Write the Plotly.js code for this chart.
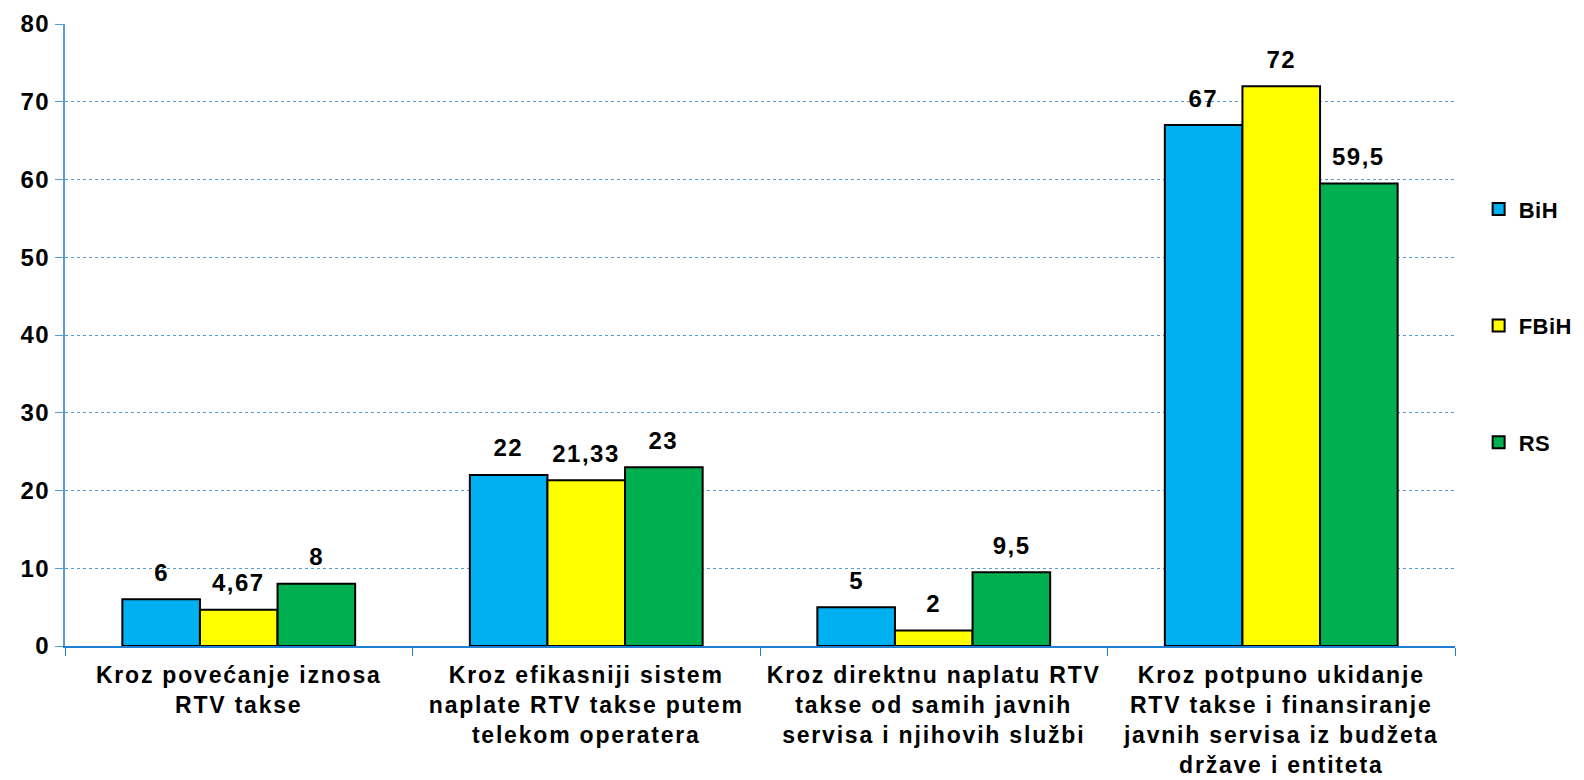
<!DOCTYPE html>
<html>
<head>
<meta charset="utf-8">
<script src="https://cdn.plot.ly/plotly-3.0.1.min.js"></script>
<style>
html,body{margin:0;padding:0;background:#fff;}
#chart{width:1584px;height:780px;}
#chart .xtick text{letter-spacing:1.8px;}
#chart .ytick text{letter-spacing:1.5px;}
#chart .annotation-text{letter-spacing:1.5px;}
#chart .legendtext{letter-spacing:0.5px;}
</style>
</head>
<body>
<div id="chart"></div>
<script>
const categories = [
  "Kroz povećanje iznosa<br>RTV takse",
  "Kroz efikasniji sistem<br>naplate RTV takse putem<br>telekom operatera",
  "Kroz direktnu naplatu RTV<br>takse od samih javnih<br>servisa i njihovih službi",
  "Kroz potpuno ukidanje<br>RTV takse i finansiranje<br>javnih servisa iz budžeta<br>države i entiteta"
];
const seriesNames = ["BiH", "FBiH", "RS"];
const bihValues = [6, 22, 5, 67];
const fbihValues = [4.67, 21.33, 2, 72];
const rsValues = [8, 23, 9.5, 59.5];
const yTickValues = [0, 10, 20, 30, 40, 50, 60, 70, 80];

const colors = ["#00b0f0", "#ffff00", "#00b050"];
const allValues = [bihValues, fbihValues, rsValues];
const fmt = v => String(v).replace('.', ',');

const W = 1584, H = 780;
const margin = {l: 65, r: 129, t: 24, b: 134, autoexpand: false};
const bargap = 0.33;
const plotW = W - margin.l - margin.r;
const barW = plotW / categories.length * (1 - bargap) / allValues.length;

const FONT = 'Liberation Sans, Arial, sans-serif';

const traces = allValues.map((vals, i) => ({
  type: 'bar',
  name: seriesNames[i],
  x: categories,
  y: vals,
  marker: {color: colors[i], line: {color: '#000', width: 2}},
  legendgroup: 'g' + i,
  hoverinfo: 'none'
}));

const annotations = [];
allValues.forEach((vals, i) => {
  vals.forEach((v, j) => {
    annotations.push({
      x: categories[j], y: v, xref: 'x', yref: 'y',
      text: fmt(v), showarrow: false,
      xshift: (i - (allValues.length - 1) / 2) * barW,
      yshift: 27, yanchor: 'middle',
      font: {family: FONT, size: 24, color: '#000', weight: 'bold'}
    });
  });
});

const layout = {
  width: W, height: H,
  margin: margin,
  paper_bgcolor: '#fff', plot_bgcolor: '#fff',
  font: {family: FONT, color: '#000', size: 23, weight: 'bold'},
  barmode: 'group',
  bargap: bargap,
  bargroupgap: 0,
  showlegend: true,
  annotations: annotations,
  legend: {
    x: 1.017, xanchor: 'left', y: 0.515, yanchor: 'middle',
    font: {family: FONT, size: 22, weight: 'bold'},
    tracegroupgap: 85,
    itemwidth: 30,
    traceorder: 'grouped'
  },
  xaxis: {
    showline: true, linecolor: '#1f7fd4', linewidth: 1.5,
    ticks: 'outside', tickson: 'boundaries', ticklen: 8, tickcolor: '#1f7fd4',
    tickfont: {family: FONT, size: 23, weight: 'bold'},
    ticklabelstandoff: 8,
    showgrid: false, zeroline: false, automargin: false
  },
  yaxis: {
    range: [0, 80],
    tickvals: yTickValues,
    ticktext: yTickValues.map(String),
    showline: true, linecolor: '#5b9bd5', linewidth: 2,
    ticks: 'outside', ticklen: 8, tickcolor: '#5b9bd5',
    tickfont: {family: FONT, size: 24, weight: 'bold'},
    showgrid: true, gridcolor: '#5b9bd5', gridwidth: 1, griddash: 'dot',
    zeroline: false, automargin: false
  }
};

Plotly.newPlot('chart', traces, layout, {displayModeBar: false, staticPlot: true});
</script>
</body>
</html>
